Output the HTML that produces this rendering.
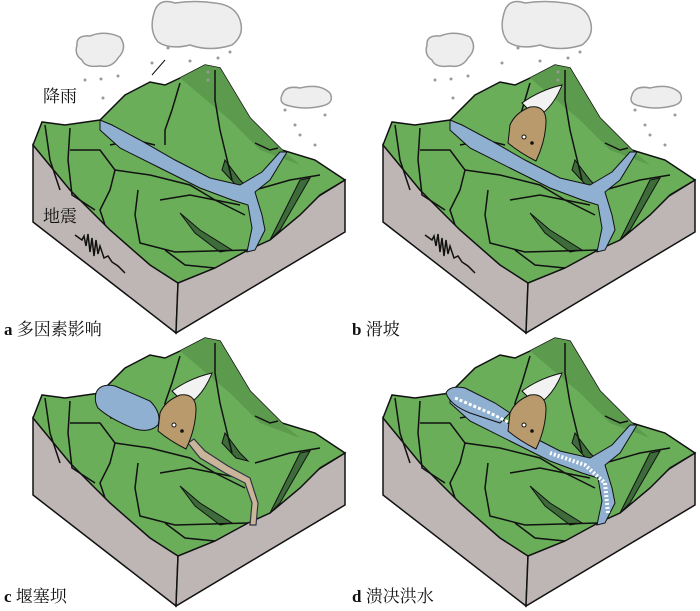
<!DOCTYPE html>
<html><head><meta charset="utf-8"><style>
html,body{margin:0;padding:0;background:#fff}
svg{display:block}
text{font-family:"Liberation Serif","Noto Serif CJK SC",serif;font-size:17px;fill:#111}
</style></head><body>
<svg width="700" height="611" viewBox="0 0 700 611" xmlns="http://www.w3.org/2000/svg">
<defs>
<g id="block">
  <polygon points="33,145 178,283 176,333 33,222" fill="#beb6b4" stroke="#111" stroke-width="1.5"/>
  <polygon points="178,283 345,180 345,232 176,333" fill="#beb6b4" stroke="#111" stroke-width="1.5"/>
  <polygon points="33,145 42,122 65,125 100,120 125,95 150,82 165,85 180,78 205,65 220,68 250,118 282,150 315,160 345,180 320,195 300,215 270,240 248,250 215,268 178,283 150,265 110,230 70,190" fill="#6aae5a" stroke="#111" stroke-width="1.5"/>
  <polygon points="180,78 205,65 220,68 250,118 282,150 300,165 260,150 230,120" fill="#5c9a4e"/>
  <polygon points="180,213 200,230 232,250 220,252 195,233" fill="#3e6b3a" stroke="#111"/>
  <polygon points="225,160 240,180 248,188 236,185 222,170" fill="#3e6b3a" stroke="#111"/>
  <polygon points="300,180 310,178 280,230 270,240" fill="#3e6b3a" stroke="#111"/>
  <g fill="none" stroke="#111" stroke-width="1.5">
    <path d="M45,125 L50,160 L60,190"/>
    <path d="M70,128 L68,160 L72,195 L95,210"/>
    <path d="M70,150 L100,150 L115,170 L110,190 L100,210 L105,225"/>
    <path d="M115,170 L150,175 L190,185 L215,200 L245,215"/>
    <path d="M138,190 L135,215 L140,243 L175,252 L248,250"/>
    <path d="M160,200 L190,195 L240,205"/>
    <path d="M180,83 L172,110 L165,130 L165,145"/>
    <path d="M215,70 L215,100 L220,130 L232,180"/>
    <path d="M110,145 L135,140 L155,145"/>
    <path d="M165,250 L185,265 L215,268"/>
    <path d="M255,190 L290,180 L320,175"/>
    <path d="M255,143 L270,150 L278,148"/>
  </g>
</g>
<g id="river">
  <path d="M100,120 L112,125 L140,140 L175,160 L210,178 L240,185 L262,172 L280,152 L287,152 L270,180 L255,192 L262,215 L265,230 L255,250 L247,252 L252,228 L248,205 L232,200 L200,188 L160,168 L120,148 L100,130 Z" fill="#8fb0d0" stroke="#111" stroke-width="1"/>
</g>
<g id="cloudBig"><path d="M155,10 Q160,-2 175,3 Q195,0 215,3 Q235,5 240,20 Q245,35 232,45 Q210,52 190,45 Q170,50 158,42 Q148,30 155,10 Z" fill="#eee" stroke="#999" stroke-width="1.5"/></g>
<g id="cloudL"><path d="M77,45 Q76,35 90,36 Q105,30 120,37 Q128,48 118,58 Q112,68 100,66 Q85,68 82,60 Q74,55 77,45 Z" fill="#eee" stroke="#999" stroke-width="1.5"/></g>
<g id="cloudR"><path d="M282,95 Q285,85 300,88 Q320,83 330,93 Q335,103 322,106 Q305,110 290,106 Q278,104 282,95 Z" fill="#eee" stroke="#999" stroke-width="1.5"/></g>
<g id="rain" fill="#999">
  <circle cx="152" cy="63" r="1.5"/><circle cx="168" cy="48" r="1.5"/><circle cx="190" cy="61" r="1.5"/><circle cx="208" cy="72" r="1.5"/><circle cx="218" cy="58" r="1.5"/><circle cx="230" cy="52" r="1.5"/><circle cx="208" cy="80" r="1.5"/>
  <circle cx="85" cy="80" r="1.5"/><circle cx="101" cy="79" r="1.5"/><circle cx="118" cy="76" r="1.5"/><circle cx="103" cy="98" r="1.5"/>
  <circle cx="285" cy="110" r="1.5"/><circle cx="300" cy="135" r="1.5"/><circle cx="315" cy="145" r="1.5"/><circle cx="295" cy="125" r="1.5"/><circle cx="325" cy="115" r="1.5"/>
</g>
<g id="quake"><path d="M75,235 L82,240 L84,236 L86,246 L88,234 L90,252 L92,238 L94,256 L96,240 L98,254 L100,246 L104,258 L108,256 L112,262 L118,266 L125,273" fill="none" stroke="#111" stroke-width="1.5"/></g>
<g id="slide">
  <path d="M172,118 Q190,105 212,100 Q205,118 193,128 L180,126 Z" fill="#f2f2f2" stroke="#111" stroke-width="1"/>
  <path d="M160,140 Q165,128 180,122 Q195,120 196,135 Q196,155 186,176 Q170,168 158,158 Z" fill="#b89a6c" stroke="#111" stroke-width="1"/>
  <circle cx="174" cy="152" r="2" fill="#fff" stroke="#111"/><circle cx="182" cy="158" r="1.8" fill="#111"/>
</g>
</defs>

<!-- a -->
<use href="#block"/><use href="#river"/>
<use href="#cloudBig"/><use href="#cloudL"/><use href="#cloudR"/><use href="#rain"/><use href="#quake"/>
<line x1="152" y1="75" x2="165" y2="60" stroke="#111"/>
<text x="43" y="102">降雨</text><text x="43" y="222" fill="#555">地震</text>
<text x="4" y="335"><tspan font-weight="bold">a</tspan> 多因素影响</text>

<!-- b -->
<g transform="translate(350,0)">
<use href="#block"/><use href="#river"/>
<use href="#cloudBig"/><use href="#cloudL"/><use href="#cloudR"/><use href="#rain"/><use href="#quake"/>
<g transform="translate(0,-15)"><use href="#slide"/></g>
</g>
<text x="352" y="335"><tspan font-weight="bold">b</tspan> 滑坡</text>

<!-- c -->
<g transform="translate(0,273)">
<use href="#block"/>
<path d="M96,120 Q100,110 115,113 L150,128 Q162,140 158,152 Q150,160 135,156 Q110,146 98,135 Q94,128 96,120 Z" fill="#8fb0d0" stroke="#111"/>
<path d="M188,170 L200,185 L225,200 L245,210 L252,230 L250,252 L256,252 L258,230 L250,205 L228,193 L205,178 L194,166 Z" fill="#c9b59a" stroke="#334" stroke-width="1.2"/>
<use href="#slide"/>
</g>
<text x="4" y="602"><tspan font-weight="bold">c</tspan> 堰塞坝</text>

<!-- d -->
<g transform="translate(350,273)">
<use href="#block"/><use href="#river"/>
<path d="M96,120 Q100,112 115,115 L145,130 L160,140 L150,150 L120,140 Q100,132 96,120 Z" fill="#8fb0d0" stroke="#111"/>
<path d="M105,125 L140,140 L160,150" fill="none" stroke="#fff" stroke-width="3" stroke-dasharray="3,2"/>
<path d="M200,180 L235,192 L255,210 L258,240" fill="none" stroke="#fff" stroke-width="4" stroke-dasharray="2,2"/>
<use href="#slide"/>
</g>
<text x="352" y="602"><tspan font-weight="bold">d</tspan> 溃决洪水</text>
</svg>
</body></html>
